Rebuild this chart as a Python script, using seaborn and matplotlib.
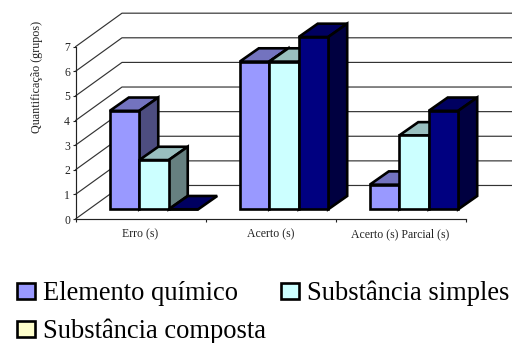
import matplotlib
matplotlib.use("Agg")
import matplotlib.pyplot as plt
from matplotlib.colors import to_rgb
from matplotlib.patches import Patch
import pandas as pd
import seaborn as sns

categories = ["Erro (s)", "Acerto (s)", "Acerto (s) Parcial (s)"]
elemento_quimico = [4, 6, 1]
substancia_simples = [2, 6, 3]
substancia_composta = [0, 7, 4]
series_names = ["Elemento químico", "Substância simples", "Substância composta"]
bar_colors = ["#9999FF", "#CCFFFF", "#000080"]
legend_colors = ["#9999FF", "#CCFFFF", "#FFFFCC"]
y_ticks = list(range(8))

sns.set_theme(style="white")
plt.rcParams["font.family"] = ["Liberation Serif", "DejaVu Serif"]

W, H = 512, 343
EDGE = 1.9
fig = plt.figure(figsize=(W / 100, H / 100), dpi=100, facecolor="white")
ax = fig.add_axes([75.5 / W, (H - 219) / H, 390 / W, 172.3 / H])

frame = pd.DataFrame({
    "categoria": categories * 3,
    "serie": [n for n in series_names for _ in categories],
    "grupos": elemento_quimico + substancia_simples + substancia_composta,
})
sns.barplot(data=frame, x="categoria", y="grupos", hue="serie", order=categories,
            hue_order=series_names, palette=bar_colors, saturation=1, width=0.68,
            gap=0, legend=False, edgecolor="black", linewidth=EDGE, ax=ax)

# Oblique projection: wall depth, bar depth and the plane the bars stand on
WALL_DX, WALL_DY = 46.5 / 130, 33.5 / 24.6
BAR_DX, BAR_DY = 19 / 130, 13.3 / 24.6
FRONT_DX, FRONT_DY = 13.5 / 130, 9.7 / 24.6
FACE = dict(edgecolor="black", lw=EDGE, joinstyle="miter", clip_on=False)


def shade(color, factor):
    return tuple(c * factor for c in to_rgb(color))


bars = sorted(ax.patches, key=lambda b: b.get_x())
for i, bar in enumerate(bars):
    bar.set_x(bar.get_x() + 0.5 + FRONT_DX)
    bar.set_y(bar.get_y() + FRONT_DY)
    bar.set_clip_on(False)
    bar.set_joinstyle("miter")
    x, y, w, h = bar.get_x(), bar.get_y(), bar.get_width(), bar.get_height()
    base = bar_colors[i % 3]
    z = 5 + i
    ax.fill([x, x + BAR_DX, x + w + BAR_DX, x + w],
            [y + h, y + h + BAR_DY, y + h + BAR_DY, y + h],
            facecolor=shade(base, 0.75), zorder=z, **FACE)
    if h > 0:
        ax.fill([x + w, x + w + BAR_DX, x + w + BAR_DX, x + w],
                [y, y + BAR_DY, y + h + BAR_DY, y + h],
                facecolor=shade(base, 0.5), zorder=z, **FACE)
    bar.set_zorder(z + 0.5)

# Side wall diagonals and back wall gridlines, one pair per tick value
for v in y_ticks:
    ax.plot([0, WALL_DX, len(categories) + WALL_DX],
            [v, v + WALL_DY, v + WALL_DY],
            color="#333333", lw=0.85, clip_on=False, zorder=1)

ax.set_xlim(0, len(categories))
ax.set_ylim(0, y_ticks[-1])
ax.set_yticks(y_ticks)
ax.set_xticks(range(len(categories) + 1), [""] * (len(categories) + 1))
ax.set_xticks([i + 0.5 for i in range(len(categories))], categories, minor=True)
ax.tick_params(axis="x", which="major", length=2.5, width=0.8, color="#222222", bottom=True)
ax.tick_params(axis="x", which="minor", length=0, labelsize=8.5, pad=13, labelcolor="#222222")
for label in ax.get_xticklabels(minor=True):
    label.set_verticalalignment("baseline")
ax.tick_params(axis="y", length=2.5, width=0.8, color="#222222", left=True,
               labelsize=8.4, pad=1.5, labelcolor="#222222")
ax.set_xlabel("")
ax.set_ylabel("")
for side in ("top", "right"):
    ax.spines[side].set_visible(False)
for side in ("left", "bottom"):
    ax.spines[side].set_color("#222222")
    ax.spines[side].set_linewidth(0.85)
ax.patch.set_alpha(0)

fig.text(37 / W, 1 - 77 / H, "Quantificação (grupos)", rotation=90, ha="center",
         va="center", fontsize=8.75, color="#222222")

# Two-column legend fills by column, so the third entry goes second in the list
legend_order = [0, 2, 1]
handles = [Patch(facecolor=legend_colors[i], edgecolor="black", linewidth=EDGE,
                 label=series_names[i]) for i in legend_order]
fig.legend(handles=handles, loc="upper left", bbox_to_anchor=(17 / W, 1 - 281 / H), ncol=2,
           frameon=False, fontsize=19.1, handlelength=0.68, handleheight=0.55,
           handletextpad=0.3, columnspacing=0.55, labelspacing=0.47, borderpad=0,
           borderaxespad=0, labelcolor="black")

fig.savefig("out.png", dpi=100)
